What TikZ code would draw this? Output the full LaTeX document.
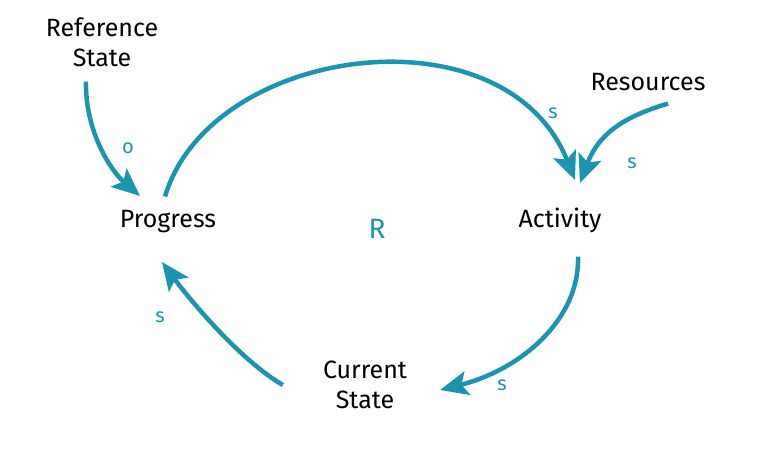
\documentclass[tikz,border=0pt]{standalone}
\usepackage{fontspec}
\setmainfont{Fira Sans}
\usetikzlibrary{arrows.meta}
\definecolor{loopblue}{HTML}{1A94B0}
\tikzset{
  var/.style={font=\fontsize{25}{30}\selectfont, align=center, inner sep=10pt},
  link/.style={draw=loopblue, line width=4.5pt, -{Stealth[length=28pt,width=24pt,inset=6pt]}},
  pol/.style={text=loopblue, font=\fontsize{20}{20}\selectfont}
}
\begin{document}
\begin{tikzpicture}[x=1pt,y=-1pt]
\useasboundingbox (0,0) rectangle (774,475);

\node (ref) at (102,42) [var] {Reference\\State};
\node (prog) at (168,222) [var] {Progress};
\node (act) at (560,220) [var] {Activity};
\node (res) at (648,82) [var] {Resources};
\node (cur) at (365,385) [var] {Current\\State};
\node (loop) at (377,229) [pol, font=\fontsize{28}{28}\selectfont] {R};

\draw [link] (prog.north) ++(-3,-4) .. controls (210,45) and (505,5) .. (575,180);
\draw [link, shorten <=2pt] (res.south) ++(22,2) .. controls (630,115) and (600,130) .. (580,183);
\draw [link] (ref.south) ++(-16,5) .. controls (85,130) and (110,170) .. (140,196);
\draw [link] (act.south) ++(18,14) .. controls (580,320) and (520,370) .. (440,390);
\draw [link] (cur.west) ++(-30,0) .. controls (240,360) and (190,300) .. (162,262);

\node [pol] at (128,148) {o};
\node [pol] at (553,113) {s};
\node [pol] at (632,163) {s};
\node [pol] at (160,317) {s};
\node [pol] at (502,385) {s};
\end{tikzpicture}
\end{document}
